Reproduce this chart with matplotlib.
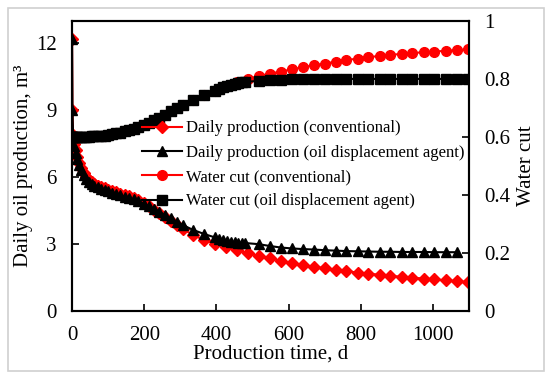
import matplotlib
matplotlib.use('Agg')
import matplotlib.pyplot as plt
from matplotlib.patches import Rectangle

plt.rcParams['font.family'] = ['Liberation Serif', 'DejaVu Serif']

# conventional case
t_conv = [0, 1, 3, 6, 10, 15, 20, 26, 32, 39, 46, 54, 62, 71, 80, 90, 100, 111, 122, 134,
          146, 158, 171, 184, 198, 212, 227, 242, 258, 274, 290, 306, 335, 365, 396, 426,
          456, 487, 517, 547, 578, 608, 639, 669, 700, 730, 760, 791, 821, 852, 882, 913,
          943, 974, 1004, 1035, 1065, 1096]
q_conv = [12.2, 9.0, 7.9, 7.5, 7.2, 6.9, 6.65, 6.4, 6.2, 6.0, 5.88, 5.78, 5.7, 5.62, 5.56,
          5.5, 5.44, 5.38, 5.32, 5.26, 5.2, 5.14, 5.06, 4.96, 4.84, 4.7, 4.55, 4.38, 4.2,
          4.02, 3.85, 3.68, 3.42, 3.18, 3.02, 2.87, 2.72, 2.6, 2.46, 2.36, 2.26, 2.16, 2.07,
          1.99, 1.92, 1.85, 1.79, 1.73, 1.68, 1.63, 1.58, 1.54, 1.5, 1.46, 1.42, 1.38, 1.34, 1.3]
wc_conv = [0.6, 0.6, 0.6, 0.6, 0.6, 0.6, 0.6, 0.6, 0.6, 0.601, 0.601, 0.602, 0.602, 0.603,
           0.604, 0.605, 0.607, 0.609, 0.612, 0.615, 0.619, 0.623, 0.628, 0.634, 0.641,
           0.649, 0.658, 0.667, 0.677, 0.688, 0.699, 0.71, 0.728, 0.745, 0.76, 0.776, 0.789,
           0.8, 0.81, 0.818, 0.825, 0.833, 0.84, 0.847, 0.853, 0.859, 0.865, 0.87, 0.875,
           0.879, 0.883, 0.886, 0.889, 0.892, 0.894, 0.897, 0.899, 0.902]

# oil displacement agent case
t_agent = [0, 1, 3, 6, 10, 15, 20, 26, 32, 39, 46, 54, 62, 71, 80, 90, 100, 111, 122, 134,
           146, 158, 171, 184, 198, 212, 227, 242, 258, 274, 290, 306, 335, 365, 396, 408,
           419, 430, 440, 450, 460, 470, 480, 517, 547, 578, 608, 639, 669, 700, 730, 760,
           791, 821, 852, 882, 913, 943, 974, 1004, 1035, 1065, 1096]
q_agent = [12.2, 9.0, 7.85, 7.4, 7.1, 6.8, 6.55, 6.3, 6.1, 5.92, 5.8, 5.7, 5.62, 5.54, 5.48,
           5.42, 5.36, 5.3, 5.24, 5.18, 5.12, 5.06, 5.0, 4.92, 4.82, 4.7, 4.57, 4.44, 4.3,
           4.15, 4.0, 3.86, 3.64, 3.46, 3.3, 3.22, 3.17, 3.13, 3.11, 3.09, 3.07, 3.06, 3.05,
           3.0, 2.92, 2.85, 2.81, 2.78, 2.76, 2.73, 2.71, 2.69, 2.68, 2.67, 2.66, 2.66, 2.65,
           2.65, 2.65, 2.64, 2.64, 2.64]
wc_agent = [0.6, 0.6, 0.6, 0.6, 0.6, 0.6, 0.6, 0.6, 0.6, 0.601, 0.601, 0.602, 0.602, 0.603,
            0.604, 0.605, 0.607, 0.609, 0.612, 0.615, 0.619, 0.623, 0.628, 0.634, 0.641,
            0.649, 0.658, 0.667, 0.677, 0.688, 0.699, 0.71, 0.728, 0.745, 0.758, 0.765,
            0.771, 0.776, 0.78, 0.783, 0.786, 0.788, 0.79, 0.793, 0.796, 0.797, 0.798, 0.799,
            0.8, 0.8, 0.8, 0.8, 0.8, 0.8, 0.8, 0.8, 0.8, 0.8, 0.8, 0.8, 0.8, 0.8, 0.8]

fig = plt.figure(figsize=(5.5, 3.79), dpi=100)
fig.patches.append(Rectangle((8 / 550, 8 / 379), 536 / 550, 363 / 379, transform=fig.transFigure,
                             fill=False, edgecolor='#d0d0d0', linewidth=1.2))
ax = fig.add_axes([0.131, 0.179, 0.722, 0.766])
ax2 = ax.twinx()

l1, = ax.plot(t_conv, q_conv, color='red', marker='D', markersize=6, linewidth=1.5,
              label='Daily production (conventional)')
l2, = ax.plot(t_agent[:len(q_agent)], q_agent, color='black', marker='^', markersize=7,
              linewidth=1.5, label='Daily production (oil displacement agent)')
l3, = ax2.plot(t_conv, wc_conv, color='red', marker='o', markersize=7, linewidth=1.5,
               label='Water cut (conventional)')
l4, = ax2.plot(t_agent, wc_agent, color='black', marker='s', markersize=6.5, linewidth=1.5,
               label='Water cut (oil displacement agent)')

ax.set_xlim(0, 1100)
ax.set_ylim(0, 13)
ax2.set_ylim(0, 1)
ax.set_xticks([0, 200, 400, 600, 800, 1000])
ax.set_yticks([0, 3, 6, 9, 12])
ax2.set_yticks([0, 0.2, 0.4, 0.6, 0.8, 1])
ax2.set_yticklabels(['0', '0.2', '0.4', '0.6', '0.8', '1'])

for a in (ax, ax2):
    a.tick_params(direction='in', length=5, width=1.2, labelsize=15, pad=11)
    for s in a.spines.values():
        s.set_linewidth(1.5)

ax.set_xlabel('Production time, d', fontsize=15, labelpad=-1)
ax.set_ylabel('Daily oil production, m³', fontsize=15, labelpad=2)
ax2.set_ylabel('Water cut', fontsize=15, labelpad=5)

ax2.legend(handles=[l1, l2, l3, l4], loc='upper left', bbox_to_anchor=(0.16, 0.68),
           frameon=False, fontsize=12, handlelength=2.4, handletextpad=0.2,
           labelspacing=0.5, borderaxespad=0)

fig.savefig('out.png', dpi=100)
